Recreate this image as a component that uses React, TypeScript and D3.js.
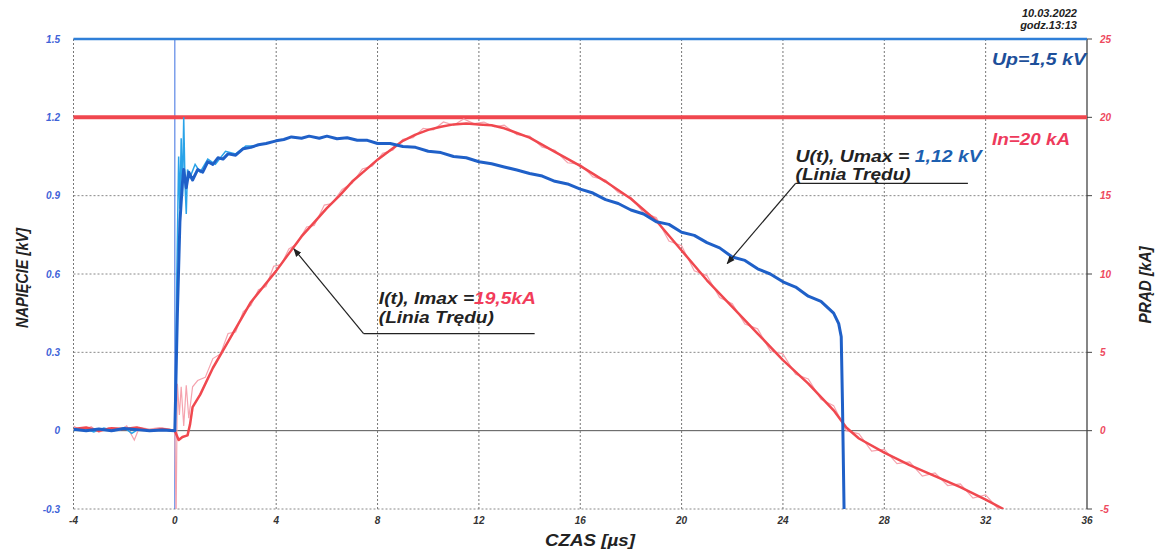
import React from "react";
import * as d3 from "d3";

const W = 1163;
const H = 554;

const xTicks = [-4, 0, 4, 8, 12, 16, 20, 24, 28, 32, 36];
const vTicks = [-0.3, 0, 0.3, 0.6, 0.9, 1.2, 1.5];
const vTickLabels = ["-0.3", "0", "0.3", "0.6", "0.9", "1.2", "1.5"];
const iTicks = [-5, 0, 5, 10, 15, 20, 25];

// U(t) trend line (kV)
const voltageTrend: [number, number][] = [
  [-4, 0.005], [-3.5, 0.0], [-3, 0.006], [-2.5, 0.0], [-2, 0.008], [-1.5, 0.004], [-1, 0.0], [-0.5, 0.003],
  [0, 0.0], [0.1, 0.45], [0.2, 0.8], [0.3, 0.95], [0.35, 1.0], [0.45, 0.93], [0.55, 0.99], [0.7, 0.96],
  [0.9, 1.0], [1.1, 0.99], [1.3, 1.03], [1.5, 1.02], [1.7, 1.045], [1.9, 1.04], [2.1, 1.06], [2.4, 1.055],
  [2.7, 1.08], [3, 1.085], [3.3, 1.095], [3.6, 1.1], [4, 1.11], [4.3, 1.115], [4.6, 1.125], [5, 1.12],
  [5.3, 1.128], [5.7, 1.12], [6, 1.128], [6.4, 1.118], [6.8, 1.122], [7.2, 1.112], [7.6, 1.112], [8, 1.1],
  [8.5, 1.1], [9, 1.088], [9.5, 1.085], [10, 1.07], [10.5, 1.065], [11, 1.05], [11.5, 1.045], [12, 1.03],
  [12.5, 1.022], [13, 1.01], [13.5, 0.998], [14, 0.985], [14.5, 0.975], [15, 0.955], [15.5, 0.945],
  [16, 0.925], [16.5, 0.91], [17, 0.885], [17.5, 0.87], [18, 0.845], [18.5, 0.83], [19, 0.8], [19.5, 0.79],
  [20, 0.76], [20.5, 0.748], [21, 0.72], [21.5, 0.7], [22, 0.665], [22.5, 0.652], [23, 0.62], [23.5, 0.6],
  [24, 0.57], [24.5, 0.55], [25, 0.515], [25.5, 0.495], [26, 0.45], [26.2, 0.41], [26.3, 0.36],
  [26.35, 0.1], [26.42, -0.35],
];

// U(t) raw trace (kV), early part
const voltageRaw: [number, number][] = [
  [-4, 0.0], [-3.6, 0.01], [-3.2, -0.005], [-2.8, 0.01], [-2.4, 0.0], [-2, 0.012], [-1.7, -0.01],
  [-1.4, 0.008], [-1, 0.0], [-0.5, 0.005], [0, 0.0], [0.08, 0.6], [0.15, 1.05], [0.2, 0.85],
  [0.25, 1.12], [0.3, 0.9], [0.35, 1.2], [0.4, 0.95], [0.45, 0.83], [0.5, 1.0], [0.6, 0.97],
  [0.8, 1.02], [1.0, 0.99], [1.3, 1.04], [1.6, 1.02], [2, 1.07], [2.4, 1.06], [2.8, 1.09], [3.2, 1.09],
];

// I(t) trend line (kA)
const currentTrend: [number, number][] = [
  [-4, 0.1], [-3.5, 0.2], [-3, 0.0], [-2.5, 0.15], [-2, 0.1], [-1.5, 0.2], [-1, 0.0], [-0.5, 0.1],
  [0, 0], [0.15, -0.6], [0.3, -0.4], [0.5, -0.3], [0.6, 0.4], [0.7, 1.5], [1, 2.3], [1.5, 4.0],
  [2, 5.4], [2.5, 6.8], [3, 8.2], [3.5, 9.2], [4, 10.2], [4.5, 11.3], [5, 12.4], [5.5, 13.3],
  [6, 14.2], [6.5, 15.0], [7, 15.9], [7.5, 16.6], [8, 17.3], [8.5, 17.9], [9, 18.5], [9.5, 18.9],
  [10, 19.2], [10.5, 19.4], [11, 19.55], [11.5, 19.6], [12, 19.55], [12.5, 19.5], [13, 19.3],
  [13.5, 19.0], [14, 18.7], [15, 17.8], [16, 16.9], [17, 15.9], [18, 14.8], [19, 13.4], [20, 11.5],
  [21, 9.6], [22, 7.9], [23, 6.2], [24, 4.5], [25, 3.0], [26, 1.3], [26.5, 0.2], [27, -0.5],
  [28, -1.4], [29, -2.2], [30, -2.9], [31, -3.6], [32, -4.4], [32.7, -5.0],
];

// I(t) raw trace (kA)
const currentRaw: [number, number][] = [
  [-4, 0.3], [-3.7, 0.0], [-3.3, 0.25], [-3, -0.1], [-2.6, 0.2], [-2.2, 0.0], [-1.9, 0.3], [-1.6, -0.6],
  [-1.4, 0.2], [-1, 0.1], [-0.6, 0.2], [-0.2, 0.1], [0, 0], [0.05, -5.5], [0.1, 3.0], [0.18, 1.0],
  [0.25, 2.8], [0.35, 0.3], [0.45, 2.9], [0.55, 0.8], [0.7, 2.8], [0.9, 3.2], [1.2, 3.4], [1.5, 4.6],
  [1.8, 4.9], [2.1, 6.2], [2.4, 6.3], [2.7, 7.6], [3, 8.0], [3.3, 9.0], [3.6, 9.2], [3.9, 10.5],
  [4.2, 10.6], [4.5, 11.6], [4.8, 11.9], [5.2, 13.0], [5.5, 13.1], [5.9, 14.4], [6.2, 14.5], [6.6, 15.4],
  [7, 15.8], [7.4, 16.7], [7.8, 16.9], [8.2, 17.7], [8.6, 17.9], [9, 18.6], [9.4, 18.7], [9.8, 19.3],
  [10.2, 19.2], [10.6, 19.7], [11, 19.5], [11.4, 19.9], [11.8, 19.6], [12.2, 19.7], [12.6, 19.4],
  [13, 19.5], [13.5, 18.9], [14, 18.8], [14.5, 18.1], [15, 17.9], [15.5, 17.1], [16, 17.0], [16.5, 16.2],
  [17, 16.0], [17.5, 15.2], [18, 14.9], [18.5, 13.9], [19, 13.6], [19.5, 12.1], [20, 11.8], [20.5, 10.2],
  [21, 9.9], [21.5, 8.5], [22, 8.1], [22.5, 6.8], [23, 6.5], [23.5, 5.1], [24, 4.9], [24.5, 3.6],
  [25, 3.3], [25.5, 2.0], [26, 1.6], [26.5, 0.0], [27, -0.2], [27.5, -1.3], [28, -1.2], [28.5, -2.1],
  [29, -2.0], [29.5, -2.9], [30, -2.7], [30.5, -3.5], [31, -3.4], [31.5, -4.3], [32, -4.1], [32.5, -5.0],
];

const upLevel = 1.5; // kV
const inLevel = 20; // kA

const FONT = "'Liberation Sans', Arial, sans-serif";

export default function App() {
  const left = 73.5;
  const right = 1087;
  const top = 39;
  const bottom = 509;

  const x = d3.scaleLinear().domain([-4, 36]).range([left, right]);
  const yV = d3.scaleLinear().domain([-0.3, 1.5]).range([bottom, top]);
  const yI = d3.scaleLinear().domain([-5, 25]).range([bottom, top]);

  const lineV = d3.line<[number, number]>().x((d) => x(d[0])).y((d) => yV(d[1]));
  const lineI = d3.line<[number, number]>().x((d) => x(d[0])).y((d) => yI(d[1]));

  const textStyle = { fontFamily: FONT, fontWeight: 700, fontStyle: "italic" as const };

  // annotation anchors in data coordinates
  const uTip = { x: x(21.8), y: yV(0.64) };
  const uStart = { x: x(24.5), y: yV(0.947) };
  const uEnd = x(31.3);
  const iTip = { x: x(4.7), y: yI(11.6) };
  const iStart = { x: x(7.45), y: yV(0.372) };
  const iEnd = x(14.2);

  return (
    <svg
      width={W}
      height={H}
      style={{ position: "absolute", left: 0, top: 0, background: "#fff" }}
    >
      <defs>
        <clipPath id="plot">
          <rect x={left} y={top - 2} width={right - left} height={bottom - top + 2} />
        </clipPath>
        <marker id="arr" viewBox="0 0 10 10" refX="9" refY="5" markerWidth="7" markerHeight="7" orient="auto">
          <path d="M0,1 L10,5 L0,9 z" fill="#222" />
        </marker>
      </defs>

      {/* horizontal grid */}
      {vTicks.map((v) => (
        <line
          key={"h" + v}
          x1={left}
          x2={right}
          y1={yV(v)}
          y2={yV(v)}
          stroke={v === 0 ? "#555" : "#888"}
          strokeWidth={1}
          strokeDasharray={v === 0 ? undefined : "2,2"}
        />
      ))}
      {/* vertical grid */}
      {xTicks.map((t) => (
        <line
          key={"v" + t}
          x1={x(t)}
          x2={x(t)}
          y1={top}
          y2={bottom}
          stroke={t === 0 ? "#3a6fe0" : t === 36 ? "#444" : "#777"}
          strokeWidth={t === 36 ? 1.3 : 1}
          strokeDasharray={t === 0 || t === 36 ? undefined : "2,2"}
        />
      ))}
      {/* right axis ticks */}
      {iTicks.map((t) => (
        <line key={"rt" + t} x1={right} x2={right + 5} y1={yI(t)} y2={yI(t)} stroke="#444" />
      ))}

      {/* reference levels */}
      <line x1={left} x2={right} y1={yV(upLevel)} y2={yV(upLevel)} stroke="#2f7fd8" strokeWidth={2.5} />
      <line x1={left} x2={right} y1={yI(inLevel)} y2={yI(inLevel)} stroke="#f0474f" strokeWidth={4} />

      <g clipPath="url(#plot)">
        <path d={lineI(currentRaw) || ""} fill="none" stroke="#f5a3ae" strokeWidth={1.2} />
        <path d={lineV(voltageRaw) || ""} fill="none" stroke="#2aa3e8" strokeWidth={1.5} />
        <path d={lineI(currentTrend) || ""} fill="none" stroke="#f0484f" strokeWidth={2.5} strokeLinejoin="round" />
        <path d={lineV(voltageTrend) || ""} fill="none" stroke="#1f60c8" strokeWidth={3} strokeLinejoin="round" />
      </g>

      {/* left tick labels */}
      {vTicks.map((v, i) => (
        <text key={"lt" + v} x={60} y={yV(v) + 3.5} textAnchor="end" fontSize={10} fill="#3f63d8" style={textStyle}>
          {vTickLabels[i]}
        </text>
      ))}
      {/* right tick labels */}
      {iTicks.map((t) => (
        <text key={"rl" + t} x={1100} y={yI(t) + 3.5} textAnchor="start" fontSize={10} fill="#ee4a5e" style={textStyle}>
          {String(t)}
        </text>
      ))}
      {/* x tick labels */}
      {xTicks.map((t) => (
        <text key={"xl" + t} x={x(t)} y={524} textAnchor="middle" fontSize={10} fill="#333" style={textStyle}>
          {String(t)}
        </text>
      ))}

      {/* axis titles */}
      <text
        transform={`translate(28,278) rotate(-90)`}
        textAnchor="middle"
        fontSize={17}
        fill="#222"
        style={textStyle}
        textLength={100}
        lengthAdjust="spacingAndGlyphs"
      >
        NAPIĘCIE [kV]
      </text>
      <text
        transform={`translate(1151,285) rotate(-90)`}
        textAnchor="middle"
        fontSize={17}
        fill="#222"
        style={textStyle}
        textLength={77}
        lengthAdjust="spacingAndGlyphs"
      >
        PRĄD [kA]
      </text>
      <text x={545} y={546} fontSize={17} fill="#222" style={textStyle} textLength={90} lengthAdjust="spacingAndGlyphs">
        CZAS [µs]
      </text>

      {/* date */}
      <text x={1077} y={17} textAnchor="end" fontSize={11} fill="#222" style={textStyle}>
        10.03.2022
      </text>
      <text x={1077} y={29} textAnchor="end" fontSize={11} fill="#222" style={textStyle}>
        godz.13:13
      </text>

      {/* level labels */}
      <text x={992} y={65} fontSize={17} fill="#1d4f9a" style={textStyle} textLength={94} lengthAdjust="spacingAndGlyphs">
        Up=1,5 kV
      </text>
      <text x={992} y={145} fontSize={17} fill="#ee3a5c" style={textStyle} textLength={78} lengthAdjust="spacingAndGlyphs">
        In=20 kA
      </text>

      {/* U annotation */}
      <text x={x(24.5)} y={162} fontSize={16} fill="#222" style={textStyle} textLength={186} lengthAdjust="spacingAndGlyphs">
        U(t), Umax = <tspan fill="#1d5fb0">1,12 kV</tspan>
      </text>
      <text x={x(24.5)} y={180} fontSize={16} fill="#222" style={textStyle} textLength={115} lengthAdjust="spacingAndGlyphs">
        (Linia  Trędu)
      </text>
      <line x1={uStart.x} x2={uEnd} y1={uStart.y} y2={uStart.y} stroke="#222" strokeWidth={1.2} />
      <line x1={uStart.x} y1={uStart.y} x2={uTip.x} y2={uTip.y} stroke="#222" strokeWidth={1.2} markerEnd="url(#arr)" />

      {/* I annotation */}
      <text x={x(8.05)} y={304} fontSize={16} fill="#222" style={textStyle} textLength={157} lengthAdjust="spacingAndGlyphs">
        I(t), Imax =<tspan fill="#f23c5a">19,5kA</tspan>
      </text>
      <text x={x(8.05)} y={323} fontSize={16} fill="#222" style={textStyle} textLength={115} lengthAdjust="spacingAndGlyphs">
        (Linia  Trędu)
      </text>
      <line x1={iStart.x} x2={iEnd} y1={iStart.y} y2={iStart.y} stroke="#222" strokeWidth={1.2} />
      <line x1={iStart.x} y1={iStart.y} x2={iTip.x} y2={iTip.y} stroke="#222" strokeWidth={1.2} markerEnd="url(#arr)" />
    </svg>
  );
}
